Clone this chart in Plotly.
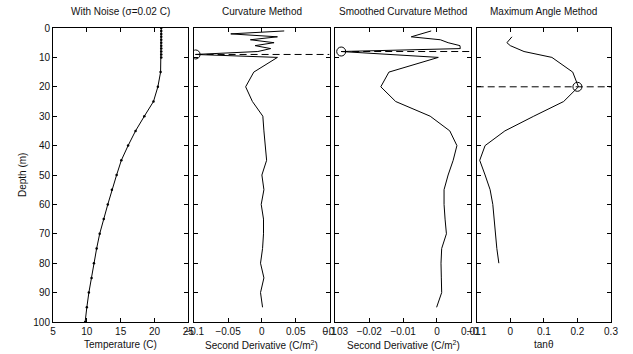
import plotly.graph_objects as go

# ---------------- data ----------------
temp_depth = [0, 1, 2, 3, 4, 5, 6, 7, 8, 9, 10, 15, 20, 25, 30, 35, 40, 45, 50,
              55, 60, 65, 70, 75, 80, 85, 90, 95, 100]
temp_vals = [21.0, 21.0, 21.0, 21.0, 21.0, 21.0, 21.0, 21.0, 21.0, 21.0, 21.0,
             20.9, 20.5, 19.85, 18.5, 17.2, 16.1, 15.1, 14.4, 13.7, 13.1, 12.5,
             11.9, 11.45, 11.05, 10.7, 10.3, 10.0, 9.75]

curv_depth = [1, 2, 3, 4, 5, 6, 7, 8, 9, 10, 15, 20, 25, 30, 35, 40, 45, 50,
              55, 60, 65, 70, 75, 80, 85, 90, 95]
curv_vals = [0.033, -0.046, 0.023, -0.017, 0.018, -0.010, 0.013, -0.006, -0.098,
             0.023, -0.012, -0.024, -0.014, 0.0014, 0.003, 0.005, 0.007, 0.0,
             0.003, -0.001, 0.0024, 0.0024, 0.001, -0.002, 0.003, -0.002, 0.001]
curv_mld = 9.0
curv_mld_val = -0.098

smooth_depth = [1, 3, 4, 5, 6, 7, 8, 10, 15, 20, 25, 30, 35, 40, 45, 50, 55,
                60, 65, 70, 75, 80, 85, 90, 95]
smooth_vals = [-0.0017, -0.0076, 0.001, 0.0033, 0.0068, 0.0069, -0.0283, 0.0004,
               -0.0142, -0.0166, -0.0122, -0.002, 0.0038, 0.0059, 0.0048, 0.0033,
               0.0021, 0.0021, 0.0024, 0.0028, 0.0014, 0.0012, 0.0013, 0.0014,
               -0.0001]
smooth_mld = 8.0
smooth_mld_val = -0.0283

angle_depth = [3, 5, 6, 8, 10, 15, 20, 25, 30, 35, 40, 45, 50, 55, 60, 65, 70,
               75, 80]
angle_vals = [0.005, -0.010, 0.0, 0.041, 0.124, 0.186, 0.203, 0.159, 0.07,
              -0.016, -0.075, -0.091, -0.075, -0.060, -0.052, -0.048, -0.045,
              -0.040, -0.034]
angle_mld = 20.0
angle_mld_val = 0.2

titles = ["With Noise (\u03c3=0.02 C)", "Curvature Method",
          "Smoothed Curvature Method", "Maximum Angle Method"]
xtitles = ["Temperature (C)", "Second Derivative (C/m<sup>2</sup>)",
           "Second Derivative (C/m<sup>2</sup>)", "tan\u03b8"]
xranges = [[5, 25], [-0.1, 0.1], [-0.03, 0.01], [-0.1, 0.3]]
xticks = [[5, 10, 15, 20, 25], [-0.1, -0.05, 0, 0.05, 0.1],
          [-0.03, -0.02, -0.01, 0, 0.01], [-0.1, 0, 0.1, 0.2, 0.3]]
yticks = [0, 10, 20, 30, 40, 50, 60, 70, 80, 90, 100]
ylabel = "Depth (m)"

# ---------------- figure ----------------
domains = [[0.0, 0.2425], [0.2531, 0.4956], [0.5062, 0.7487], [0.7593, 1.0]]
font = dict(family="Liberation Sans, Arial, sans-serif", size=10, color="#111")

fig = go.Figure()
line = dict(color="black", width=1)

fig.add_trace(go.Scatter(x=temp_vals, y=temp_depth, mode="lines+markers",
                         line=line, marker=dict(color="black", size=2.5),
                         xaxis="x", yaxis="y"))
fig.add_trace(go.Scatter(x=curv_vals, y=curv_depth, mode="lines", line=line,
                         xaxis="x2", yaxis="y2"))
fig.add_trace(go.Scatter(x=smooth_vals, y=smooth_depth, mode="lines", line=line,
                         xaxis="x3", yaxis="y3"))
fig.add_trace(go.Scatter(x=angle_vals, y=angle_depth, mode="lines", line=line,
                         xaxis="x4", yaxis="y4"))

mlds = [(2, curv_mld, curv_mld_val), (3, smooth_mld, smooth_mld_val),
        (4, angle_mld, angle_mld_val)]
for k, d, v in mlds:
    xr = xranges[k - 1]
    fig.add_trace(go.Scatter(x=[v, xr[1]] if k != 4 else xr, y=[d, d],
                             mode="lines",
                             line=dict(color="black", width=1, dash="7px,4px"),
                             xaxis=f"x{k}", yaxis=f"y{k}"))
    fig.add_trace(go.Scatter(x=[v], y=[d], mode="markers",
                             marker=dict(symbol="circle-open", size=9,
                                         color="black", line=dict(width=1)),
                             xaxis=f"x{k}", yaxis=f"y{k}"))

axis_common = dict(showline=True, linecolor="black", linewidth=1, mirror="ticks",
                   ticks="inside", ticklen=4, tickcolor="black", tickwidth=1,
                   showgrid=False, zeroline=False, tickfont=font)

layout = dict(width=633, height=354, showlegend=False,
              margin=dict(l=53, r=15, t=28, b=32),
              paper_bgcolor="white", plot_bgcolor="white", font=font)

for i in range(4):
    sfx = "" if i == 0 else str(i + 1)
    layout["xaxis" + sfx] = dict(axis_common, domain=domains[i], range=xranges[i],
                                 tickvals=xticks[i], anchor="y" + sfx)
    layout["yaxis" + sfx] = dict(axis_common, domain=[0, 1], range=[100, 0],
                                 tickvals=yticks, anchor="x" + sfx,
                                 showticklabels=(i == 0))

fig.update_layout(**layout)

for i in range(4):
    mid = (domains[i][0] + domains[i][1]) / 2
    fig.add_annotation(text=titles[i], x=mid, y=1, xref="paper", yref="paper",
                       xanchor="center", yanchor="bottom", yshift=9,
                       showarrow=False, font=font)
    fig.add_annotation(text=xtitles[i], x=mid, y=0, xref="paper", yref="paper",
                       xanchor="center", yanchor="top", yshift=-15,
                       showarrow=False, font=font)

fig.add_annotation(text=ylabel, x=0, y=0.5, xref="paper", yref="paper",
                   xanchor="center", yanchor="middle", xshift=-31,
                   textangle=-90, showarrow=False, font=font)

fig.write_html("out.html")
